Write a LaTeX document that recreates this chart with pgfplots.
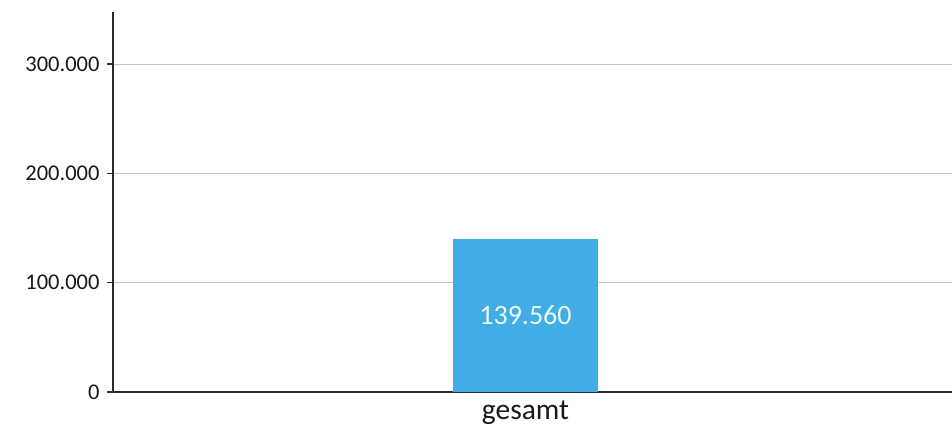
\documentclass[border=0pt]{standalone}
\usepackage{fontspec}
\setmainfont{Carlito}
\usepackage{pgfplots}
\pgfplotsset{compat=1.18}
\definecolor{barblue}{HTML}{40AEE4}
\definecolor{gridgray}{HTML}{C4C4C4}
\definecolor{axisdark}{HTML}{2B2B2B}

\begin{document}
\begin{tikzpicture}
\useasboundingbox (-113pt,-33pt) rectangle (839pt,392pt);
\begin{axis}[
    scale only axis,
    width=839pt, height=380pt,
    at={(0,0)}, anchor=south west,
    ymin=0, ymax=347700,
    xmin=-1, xmax=1.034,
    ybar, bar width=145pt,
    axis x line*=bottom,
    axis y line*=left,
    axis line style={axisdark, line width=1.3pt},
    xtick={0}, xticklabels={gesamt},
    x tick style={draw=none},
    x tick label style={font=\fontsize{29.5}{30}\selectfont, yshift=1pt, text=black!90},
    ytick={0,100000,200000,300000},
    y tick style={axisdark, line width=1.3pt},
    tick align=outside,
    major tick length=6pt,
    y tick label style={font=\fontsize{22.5}{24}\selectfont, text=black!90, xshift=-4pt},
    scaled y ticks=false,
    /pgf/number format/.cd, fixed, precision=0, 1000 sep={.}, assume math mode=true,
    /pgfplots/.cd,
    ymajorgrids, grid style={gridgray, line width=1pt},
    nodes near coords,
    every node near coord/.append style={anchor=center, yshift=-76pt,
        text=white!92!barblue, font=\fontsize{28}{30}\selectfont},
]
\addplot[fill=barblue, draw=none] coordinates {(0,139560)};
\end{axis}
\end{tikzpicture}
\end{document}
